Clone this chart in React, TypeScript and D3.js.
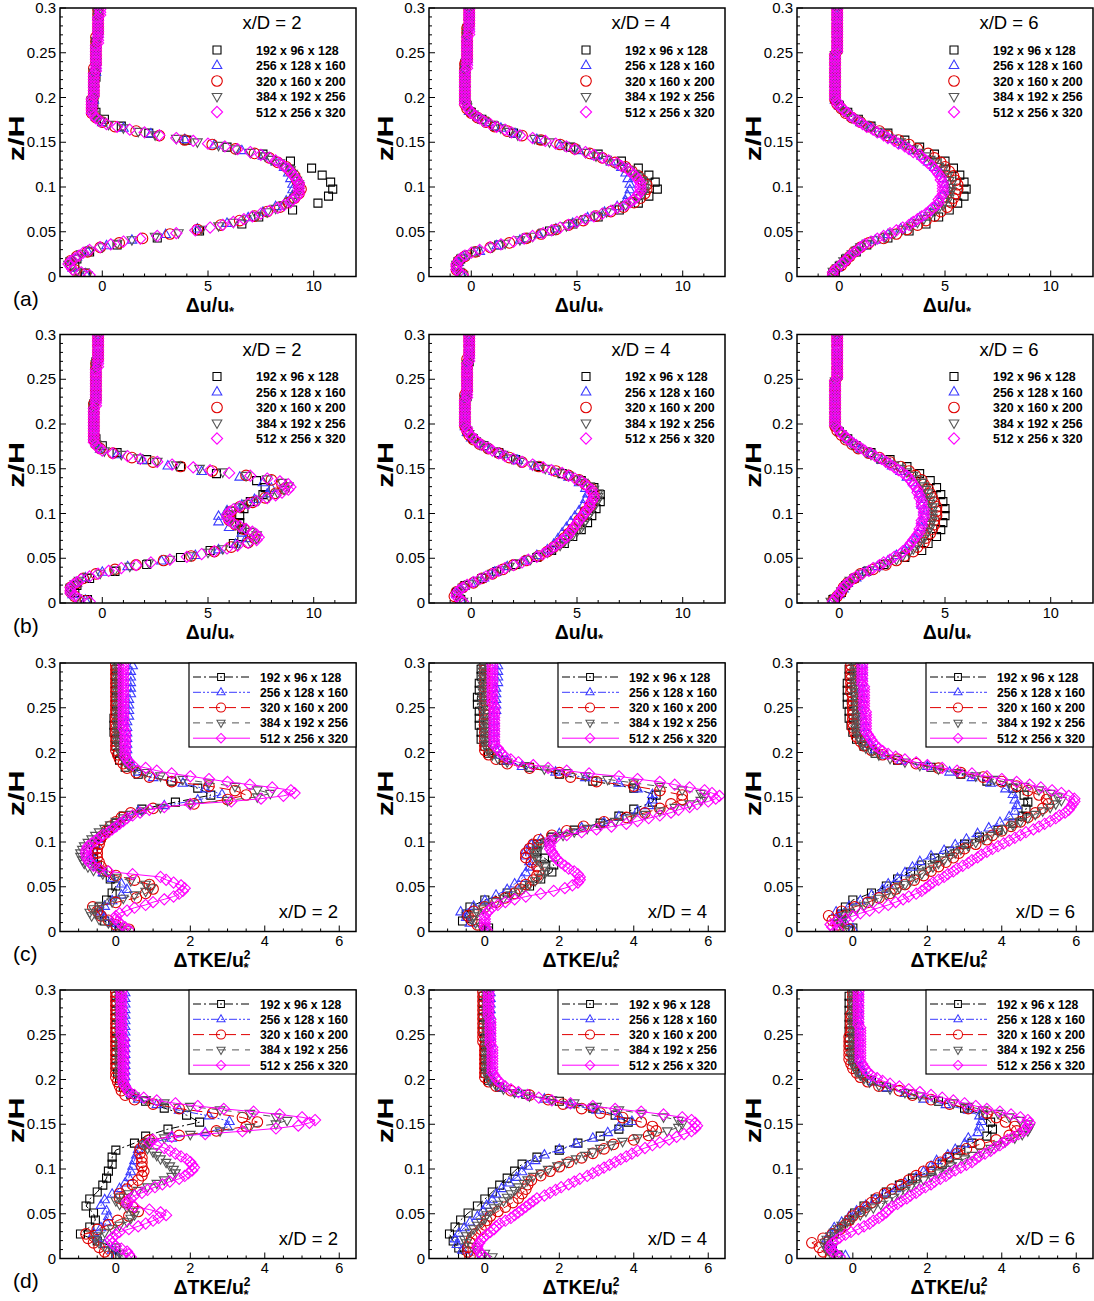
import React from 'react';
import * as d3 from 'd3';

// ---------- categories / labels ----------
const GRID_LABELS = ['192 x 96 x 128', '256 x 128 x 160', '320 x 160 x 200', '384 x 192 x 256', '512 x 256 x 320'];
const GRID_NZ = [128, 160, 200, 256, 320]; // vertical cells over H; values below are at cell centres
const DU_TICKS = [0, 5, 10];
const DU_MINOR = [-1, 1, 2, 3, 4, 6, 7, 8, 9, 11];
const TKE_TICKS = [0, 2, 4, 6];
const TKE_MINOR = [-1, -0.5, 0.5, 1, 1.5, 2.5, 3, 3.5, 4.5, 5, 5.5];
const Y_TICKS = [0, 0.05, 0.1, 0.15, 0.2, 0.25, 0.3];
const Y_TICK_LABELS = ['0', '0.05', '0.1', '0.15', '0.2', '0.25', '0.3'];
const Y_MINOR = [0.01, 0.02, 0.03, 0.04, 0.06, 0.07, 0.08, 0.09, 0.11, 0.12, 0.13, 0.14, 0.16, 0.17, 0.18, 0.19, 0.21, 0.22, 0.23, 0.24, 0.26, 0.27, 0.28, 0.29];

// ---------- (a) Δu/u*, x/D = 2,4,6 ----------
const duA2_128 = [-0.8,-1.3,-1.2,-0.6,0.7,2.6,4.6,6.6,7.4,9.0,10.2,10.7,10.9,10.8,10.4,9.9,8.9,7.6,5.9,4.0,2.2,0.9,0.1,-0.3,-0.4,-0.4,-0.4,-0.4,-0.3,-0.3,-0.3,-0.3,-0.3,-0.3,-0.2,-0.2,-0.2,-0.2];
const duA2_160 = [-0.8,-1.4,-1.5,-1.2,-0.7,0.2,1.4,3.0,4.5,5.9,6.9,7.6,8.2,8.7,9.0,9.0,9.0,8.9,8.8,8.6,8.2,7.6,6.6,5.3,3.9,2.3,1.0,0.0,-0.3,-0.5,-0.5,-0.4,-0.4,-0.4,-0.4,-0.4,-0.3,-0.3,-0.3,-0.3,-0.3,-0.3,-0.3,-0.2,-0.2,-0.2,-0.2,-0.2];
const duA2_200 = [-0.8,-1.3,-1.5,-1.5,-1.2,-0.7,-0.1,0.8,1.9,3.2,4.5,5.6,6.5,7.2,7.8,8.4,8.8,9.1,9.3,9.4,9.3,9.2,9.1,8.9,8.7,8.3,7.9,7.2,6.3,5.2,3.9,2.7,1.6,0.6,0.0,-0.3,-0.5,-0.5,-0.5,-0.5,-0.4,-0.4,-0.4,-0.4,-0.4,-0.4,-0.4,-0.3,-0.3,-0.3,-0.3,-0.3,-0.3,-0.3,-0.2,-0.2,-0.2,-0.2,-0.2,-0.2];
const duA2_256 = [-0.7,-1.2,-1.5,-1.6,-1.5,-1.2,-1.0,-0.6,0.0,0.7,1.4,2.5,3.6,4.7,5.5,6.2,6.8,7.3,7.8,8.2,8.6,8.9,9.1,9.2,9.3,9.3,9.3,9.2,9.1,9.0,8.9,8.6,8.4,8.0,7.7,7.0,6.3,5.5,4.5,3.5,2.5,1.7,1.0,0.3,-0.1,-0.3,-0.4,-0.5,-0.5,-0.5,-0.5,-0.4,-0.4,-0.4,-0.4,-0.4,-0.4,-0.4,-0.4,-0.3,-0.3,-0.3,-0.3,-0.3,-0.3,-0.3,-0.3,-0.3,-0.2,-0.2,-0.2,-0.2,-0.2,-0.2,-0.2,-0.2,-0.2];
const duA2_320 = [-0.6,-1.0,-1.4,-1.5,-1.6,-1.5,-1.3,-1.1,-0.9,-0.6,-0.1,0.4,1.0,1.8,2.6,3.5,4.4,5.1,5.7,6.2,6.7,7.1,7.5,7.9,8.3,8.6,8.9,9.0,9.2,9.3,9.3,9.3,9.3,9.3,9.2,9.1,9.0,8.9,8.8,8.6,8.4,8.2,7.9,7.5,7.0,6.4,5.8,5.0,4.3,3.5,2.7,2.0,1.3,0.7,0.2,-0.1,-0.3,-0.4,-0.5,-0.5,-0.5,-0.5,-0.5,-0.5,-0.4,-0.4,-0.4,-0.4,-0.4,-0.4,-0.4,-0.4,-0.4,-0.3,-0.3,-0.3,-0.3,-0.3,-0.3,-0.3,-0.3,-0.3,-0.3,-0.2,-0.2,-0.2,-0.2,-0.2,-0.2,-0.2,-0.2,-0.2,-0.2,-0.1,-0.1,-0.1];

const duA4_128 = [-0.5,-0.7,-0.5,0.2,1.3,2.6,3.7,4.8,6.0,7.0,7.9,8.4,8.8,8.7,8.4,7.9,7.1,6.0,4.7,3.3,2.0,1.1,0.5,0.0,-0.2,-0.3,-0.3,-0.3,-0.3,-0.3,-0.3,-0.2,-0.2,-0.2,-0.2,-0.2,-0.1,-0.1];
const duA4_160 = [-0.5,-0.7,-0.6,-0.4,0.4,1.2,2.3,3.2,4.0,4.8,5.5,6.3,6.9,7.3,7.4,7.5,7.5,7.4,7.3,7.1,6.6,5.9,5.1,4.2,3.1,2.1,1.4,0.8,0.3,-0.1,-0.2,-0.3,-0.3,-0.3,-0.3,-0.3,-0.3,-0.3,-0.2,-0.2,-0.2,-0.2,-0.2,-0.2,-0.1,-0.1,-0.1,-0.1];
const duA4_200 = [-0.4,-0.7,-0.7,-0.6,-0.3,0.2,0.9,1.8,2.6,3.3,4.0,4.6,5.3,5.9,6.6,7.2,7.7,8.0,8.2,8.3,8.3,8.1,7.9,7.6,7.3,6.8,6.2,5.6,4.9,4.2,3.3,2.4,1.7,1.1,0.7,0.3,0.0,-0.2,-0.3,-0.3,-0.3,-0.3,-0.3,-0.3,-0.3,-0.3,-0.3,-0.3,-0.2,-0.2,-0.2,-0.2,-0.2,-0.2,-0.2,-0.2,-0.1,-0.1,-0.1,-0.1];
const duA4_256 = [-0.4,-0.6,-0.7,-0.7,-0.6,-0.4,-0.1,0.3,1.0,1.6,2.3,2.9,3.4,4.0,4.5,5.0,5.4,5.9,6.4,6.9,7.3,7.6,7.9,8.1,8.2,8.2,8.2,8.1,7.9,7.7,7.5,7.2,6.8,6.4,5.9,5.4,4.9,4.4,3.7,3.0,2.2,1.8,1.4,1.0,0.6,0.3,0.1,-0.1,-0.2,-0.3,-0.3,-0.3,-0.3,-0.3,-0.3,-0.3,-0.3,-0.3,-0.3,-0.3,-0.2,-0.2,-0.2,-0.2,-0.2,-0.2,-0.2,-0.2,-0.2,-0.2,-0.1,-0.1,-0.1,-0.1,-0.1,-0.1,-0.1];
const duA4_320 = [-0.4,-0.6,-0.7,-0.7,-0.7,-0.6,-0.5,-0.3,0.0,0.4,0.9,1.4,2.0,2.5,2.9,3.4,3.8,4.2,4.6,5.0,5.4,5.8,6.2,6.6,6.9,7.3,7.5,7.7,7.8,7.9,8.0,8.0,8.0,8.0,7.9,7.8,7.7,7.5,7.4,7.1,6.9,6.5,6.2,5.8,5.4,4.9,4.5,4.0,3.5,2.9,2.3,1.9,1.6,1.2,0.9,0.6,0.4,0.2,0.0,-0.1,-0.2,-0.3,-0.3,-0.3,-0.3,-0.3,-0.3,-0.3,-0.3,-0.3,-0.3,-0.3,-0.3,-0.3,-0.2,-0.2,-0.2,-0.2,-0.2,-0.2,-0.2,-0.2,-0.2,-0.2,-0.2,-0.2,-0.1,-0.1,-0.1,-0.1,-0.1,-0.1,-0.1,-0.1,-0.1,-0.1];

const duA6_128 = [-0.3,0.0,0.3,0.8,1.3,2.3,3.3,4.1,4.7,5.2,5.6,5.9,6.0,5.9,5.7,5.4,5.0,4.5,3.8,3.1,2.3,1.5,0.9,0.4,0.0,-0.2,-0.2,-0.2,-0.2,-0.2,-0.2,-0.2,-0.1,-0.1,-0.1,-0.1,-0.1,-0.1];
const duA6_160 = [-0.3,-0.1,0.2,0.4,0.7,1.1,1.7,2.3,2.9,3.4,3.8,4.2,4.5,4.7,4.9,5.0,5.0,4.9,4.8,4.5,4.2,3.9,3.5,3.0,2.5,2.0,1.5,1.0,0.6,0.3,0.0,-0.2,-0.2,-0.2,-0.2,-0.2,-0.2,-0.2,-0.2,-0.2,-0.1,-0.1,-0.1,-0.1,-0.1,-0.1,-0.1,-0.1];
const duA6_200 = [-0.3,-0.2,0.1,0.3,0.5,0.7,1.0,1.4,2.1,2.7,3.2,3.7,4.1,4.5,4.8,5.1,5.3,5.4,5.5,5.6,5.6,5.5,5.4,5.2,5.0,4.8,4.5,4.2,3.7,3.3,2.8,2.3,1.9,1.4,1.0,0.6,0.3,0.1,-0.1,-0.2,-0.2,-0.2,-0.2,-0.2,-0.2,-0.2,-0.2,-0.2,-0.2,-0.2,-0.1,-0.1,-0.1,-0.1,-0.1,-0.1,-0.1,-0.1,-0.1,-0.1];
const duA6_256 = [-0.3,-0.3,-0.1,0.1,0.2,0.4,0.6,0.8,1.0,1.3,1.7,2.2,2.6,3.0,3.4,3.7,4.0,4.3,4.5,4.7,4.9,5.0,5.2,5.2,5.3,5.3,5.3,5.2,5.1,5.0,4.9,4.7,4.5,4.3,4.1,3.8,3.5,3.1,2.9,2.5,2.1,1.8,1.5,1.2,0.9,0.6,0.4,0.2,0.0,-0.1,-0.2,-0.2,-0.2,-0.2,-0.2,-0.2,-0.2,-0.2,-0.2,-0.2,-0.2,-0.2,-0.2,-0.2,-0.1,-0.1,-0.1,-0.1,-0.1,-0.1,-0.1,-0.1,-0.1,-0.1,-0.1,-0.1,-0.1];
const duA6_320 = [-0.3,-0.3,-0.2,0.0,0.1,0.3,0.4,0.5,0.7,0.9,1.0,1.2,1.5,1.8,2.1,2.4,2.7,3.0,3.3,3.5,3.7,3.9,4.1,4.3,4.4,4.6,4.7,4.7,4.8,4.9,4.9,4.9,4.9,4.9,4.8,4.8,4.7,4.6,4.5,4.4,4.2,4.1,3.9,3.8,3.5,3.3,3.1,2.8,2.6,2.3,2.1,1.8,1.6,1.3,1.1,0.9,0.7,0.5,0.4,0.2,0.1,-0.1,-0.1,-0.2,-0.2,-0.2,-0.2,-0.2,-0.2,-0.2,-0.2,-0.2,-0.2,-0.2,-0.2,-0.2,-0.2,-0.2,-0.2,-0.2,-0.1,-0.1,-0.1,-0.1,-0.1,-0.1,-0.1,-0.1,-0.1,-0.1,-0.1,-0.1,-0.1,-0.1,-0.1,-0.1];

// ---------- (b) Δu/u* ----------
const duB2_128 = [-0.7,-1.3,-1.2,-0.6,0.6,2.1,3.7,5.1,6.2,6.6,6.6,6.5,6.5,6.7,7.0,7.6,7.7,7.3,5.4,3.7,2.1,0.7,0.0,-0.3,-0.4,-0.4,-0.4,-0.4,-0.4,-0.3,-0.3,-0.3,-0.3,-0.3,-0.3,-0.2,-0.2,-0.2];
const duB2_160 = [-0.8,-1.4,-1.5,-1.2,-0.8,0.0,1.2,2.8,4.4,5.5,6.3,6.8,6.6,6.0,5.5,5.5,5.9,6.6,7.2,7.8,8.0,7.6,6.5,4.7,3.1,1.9,0.7,-0.1,-0.3,-0.4,-0.4,-0.4,-0.4,-0.4,-0.4,-0.4,-0.3,-0.3,-0.3,-0.3,-0.3,-0.3,-0.3,-0.2,-0.2,-0.2,-0.2,-0.2];
const duB2_200 = [-0.8,-1.3,-1.5,-1.5,-1.2,-0.9,-0.3,0.6,1.6,2.9,4.2,5.3,6.1,6.9,7.2,7.1,6.7,6.3,6.0,6.0,6.1,6.5,7.1,7.7,8.2,8.6,8.5,8.0,6.8,5.2,3.7,2.4,1.4,0.5,-0.1,-0.3,-0.4,-0.4,-0.4,-0.4,-0.4,-0.4,-0.4,-0.4,-0.4,-0.3,-0.3,-0.3,-0.3,-0.3,-0.3,-0.3,-0.3,-0.3,-0.2,-0.2,-0.2,-0.2,-0.2,-0.2];
const duB2_256 = [-0.7,-1.2,-1.5,-1.5,-1.5,-1.3,-1.1,-0.7,-0.1,0.6,1.3,2.2,3.2,4.2,5.0,5.7,6.4,7.0,7.3,7.3,7.0,6.6,6.3,6.0,5.9,6.0,6.1,6.5,6.9,7.4,7.9,8.3,8.6,8.8,8.5,7.8,6.8,5.7,4.6,3.5,2.6,1.7,0.9,0.1,-0.2,-0.3,-0.4,-0.4,-0.4,-0.4,-0.4,-0.4,-0.4,-0.4,-0.4,-0.4,-0.4,-0.3,-0.3,-0.3,-0.3,-0.3,-0.3,-0.3,-0.3,-0.3,-0.3,-0.3,-0.3,-0.2,-0.2,-0.2,-0.2,-0.2,-0.2,-0.2,-0.2];
const duB2_320 = [-0.6,-1.1,-1.3,-1.5,-1.5,-1.5,-1.4,-1.2,-1.0,-0.6,-0.2,0.3,0.9,1.6,2.3,3.2,4.0,4.7,5.3,5.9,6.4,6.9,7.3,7.4,7.3,7.1,6.8,6.5,6.2,6.0,5.9,5.9,6.0,6.2,6.5,6.9,7.3,7.8,8.2,8.5,8.8,8.9,8.8,8.4,7.8,7.0,6.0,5.1,4.3,3.3,2.6,1.8,1.2,0.5,0.0,-0.2,-0.3,-0.4,-0.4,-0.4,-0.4,-0.4,-0.4,-0.4,-0.4,-0.4,-0.4,-0.4,-0.4,-0.4,-0.3,-0.3,-0.3,-0.3,-0.3,-0.3,-0.3,-0.3,-0.3,-0.3,-0.3,-0.3,-0.3,-0.3,-0.2,-0.2,-0.2,-0.2,-0.2,-0.2,-0.2,-0.2,-0.2,-0.2,-0.2,-0.2];

const duB4_128 = [-0.5,-0.7,-0.3,0.5,1.2,2.1,3.1,3.8,4.4,4.8,5.2,5.5,5.7,5.9,6.1,6.1,5.8,5.2,4.3,3.2,2.1,1.3,0.6,0.1,-0.2,-0.3,-0.3,-0.3,-0.3,-0.2,-0.2,-0.2,-0.2,-0.2,-0.1,-0.1,-0.1,-0.1];
const duB4_160 = [-0.5,-0.7,-0.5,0.0,0.6,1.1,1.7,2.5,3.1,3.6,3.9,4.1,4.3,4.5,4.7,4.9,5.1,5.3,5.4,5.5,5.4,5.1,4.6,3.9,3.0,2.2,1.5,0.9,0.4,0.0,-0.2,-0.3,-0.3,-0.3,-0.3,-0.3,-0.3,-0.3,-0.2,-0.2,-0.2,-0.2,-0.2,-0.2,-0.1,-0.1,-0.1,-0.1];
const duB4_200 = [-0.5,-0.8,-0.7,-0.4,0.1,0.5,1.0,1.5,2.0,2.6,3.2,3.6,3.9,4.2,4.4,4.6,4.8,5.0,5.1,5.3,5.4,5.6,5.7,5.8,5.8,5.7,5.4,5.1,4.6,4.0,3.2,2.4,1.8,1.3,0.8,0.4,0.1,-0.1,-0.2,-0.3,-0.3,-0.3,-0.3,-0.3,-0.3,-0.3,-0.3,-0.2,-0.2,-0.2,-0.2,-0.2,-0.2,-0.2,-0.2,-0.1,-0.1,-0.1,-0.1,-0.1];
const duB4_256 = [-0.4,-0.6,-0.7,-0.6,-0.4,-0.1,0.3,0.7,1.0,1.4,1.8,2.3,2.8,3.2,3.6,3.9,4.2,4.4,4.6,4.8,5.0,5.2,5.3,5.4,5.5,5.6,5.7,5.8,5.9,6.0,6.0,6.0,5.8,5.6,5.3,5.0,4.6,4.1,3.5,2.9,2.3,1.9,1.5,1.1,0.7,0.4,0.2,0.0,-0.1,-0.2,-0.3,-0.3,-0.3,-0.3,-0.3,-0.3,-0.3,-0.3,-0.3,-0.2,-0.2,-0.2,-0.2,-0.2,-0.2,-0.2,-0.2,-0.2,-0.2,-0.1,-0.1,-0.1,-0.1,-0.1,-0.1,-0.1,-0.1];
const duB4_320 = [-0.4,-0.6,-0.7,-0.7,-0.6,-0.4,-0.2,0.1,0.4,0.7,1.0,1.3,1.6,2.0,2.4,2.7,3.1,3.4,3.6,3.8,4.0,4.2,4.3,4.5,4.6,4.7,4.8,4.9,5.0,5.1,5.2,5.3,5.4,5.5,5.6,5.6,5.7,5.8,5.8,5.7,5.7,5.5,5.4,5.2,4.9,4.6,4.3,3.8,3.4,2.9,2.4,2.0,1.6,1.3,1.0,0.8,0.5,0.3,0.2,0.0,-0.1,-0.2,-0.2,-0.3,-0.3,-0.3,-0.3,-0.3,-0.3,-0.3,-0.3,-0.3,-0.3,-0.2,-0.2,-0.2,-0.2,-0.2,-0.2,-0.2,-0.2,-0.2,-0.2,-0.2,-0.2,-0.2,-0.1,-0.1,-0.1,-0.1,-0.1,-0.1,-0.1,-0.1,-0.1,-0.1];

const duB6_128 = [-0.3,0.1,0.3,0.7,1.3,2.1,3.1,3.9,4.2,4.6,4.8,4.9,5.0,5.0,4.9,4.8,4.6,4.3,3.8,3.2,2.4,1.5,0.8,0.4,0.0,-0.2,-0.2,-0.2,-0.2,-0.2,-0.2,-0.2,-0.1,-0.1,-0.1,-0.1,-0.1,-0.1];
const duB6_160 = [-0.3,0.0,0.2,0.4,0.8,1.2,1.8,2.3,2.7,3.1,3.3,3.6,3.7,3.9,3.9,4.0,4.0,3.9,3.9,3.8,3.7,3.5,3.2,2.9,2.5,2.0,1.5,1.0,0.7,0.3,0.1,-0.1,-0.2,-0.2,-0.2,-0.2,-0.2,-0.2,-0.2,-0.2,-0.1,-0.1,-0.1,-0.1,-0.1,-0.1,-0.1,-0.1];
const duB6_200 = [-0.3,-0.1,0.1,0.2,0.4,0.7,1.0,1.6,2.2,2.7,3.1,3.5,3.7,4.0,4.1,4.3,4.4,4.5,4.5,4.6,4.6,4.6,4.5,4.4,4.3,4.2,4.0,3.9,3.6,3.3,2.9,2.4,1.9,1.4,0.9,0.6,0.3,0.1,-0.1,-0.2,-0.2,-0.2,-0.2,-0.2,-0.2,-0.2,-0.2,-0.2,-0.2,-0.2,-0.1,-0.1,-0.1,-0.1,-0.1,-0.1,-0.1,-0.1,-0.1,-0.1];
const duB6_256 = [-0.4,-0.2,0.0,0.1,0.3,0.4,0.5,0.8,1.1,1.4,1.9,2.3,2.7,3.0,3.3,3.5,3.7,3.8,4.0,4.1,4.2,4.3,4.3,4.4,4.4,4.4,4.4,4.4,4.3,4.3,4.2,4.2,4.1,4.0,3.9,3.7,3.5,3.2,2.9,2.6,2.2,1.8,1.5,1.2,0.9,0.6,0.4,0.2,0.1,-0.1,-0.2,-0.2,-0.2,-0.2,-0.2,-0.2,-0.2,-0.2,-0.2,-0.2,-0.2,-0.2,-0.2,-0.2,-0.1,-0.1,-0.1,-0.1,-0.1,-0.1,-0.1,-0.1,-0.1,-0.1,-0.1,-0.1,-0.1];
const duB6_320 = [-0.3,-0.2,-0.1,0.0,0.1,0.2,0.3,0.5,0.6,0.8,1.1,1.4,1.6,1.9,2.1,2.4,2.6,2.9,3.0,3.2,3.3,3.4,3.5,3.6,3.7,3.8,3.8,3.9,3.9,3.9,4.0,4.0,4.0,4.0,3.9,3.9,3.9,3.8,3.8,3.7,3.7,3.6,3.5,3.4,3.3,3.2,3.0,2.8,2.6,2.4,2.2,2.0,1.7,1.5,1.2,1.0,0.8,0.6,0.4,0.3,0.1,0.0,-0.1,-0.2,-0.2,-0.2,-0.2,-0.2,-0.2,-0.2,-0.2,-0.2,-0.2,-0.2,-0.2,-0.2,-0.2,-0.2,-0.2,-0.2,-0.1,-0.1,-0.1,-0.1,-0.1,-0.1,-0.1,-0.1,-0.1,-0.1,-0.1,-0.1,-0.1,-0.1,-0.1,-0.1];

// ---------- (c) ΔTKE/u*² ----------
const tkC2_128 = [0.0,-0.3,-0.45,-0.45,-0.25,-0.1,0.0,-0.15,-0.35,-0.5,-0.6,-0.6,-0.55,-0.4,-0.2,0.0,0.2,0.7,1.6,2.55,2.2,1.5,0.6,0.25,0.1,0.05,0.0,0.0,-0.05,-0.05,-0.05,0.0,0.0,0.0,0.0,0.0,0.0,0.0];
const tkC2_160 = [0.05,-0.1,-0.3,-0.4,-0.3,-0.1,0.15,0.3,0.15,-0.1,-0.35,-0.5,-0.6,-0.65,-0.6,-0.55,-0.45,-0.3,-0.1,0.1,0.3,0.6,1.3,2.2,2.85,2.4,1.8,1.0,0.6,0.45,0.35,0.3,0.3,0.3,0.3,0.3,0.3,0.3,0.35,0.35,0.35,0.35,0.4,0.4,0.4,0.4,0.4,0.45];
const tkC2_200 = [0.35,0.0,-0.2,-0.4,-0.5,-0.62,0.0,0.55,0.8,1.0,0.9,0.5,0.0,-0.25,-0.4,-0.45,-0.5,-0.5,-0.5,-0.45,-0.42,-0.35,-0.25,-0.15,0.0,0.15,0.4,1.0,2.1,3.0,3.5,3.2,2.5,1.5,0.9,0.55,0.3,0.2,0.1,0.05,0.0,0.0,0.0,0.0,0.0,0.0,0.0,0.0,0.0,0.0,0.0,0.0,0.0,0.0,0.0,0.0,0.0,0.0,0.0,0.0];
const tkC2_256 = [0.3,0.1,-0.2,-0.45,-0.65,-0.7,-0.6,-0.4,-0.1,0.2,0.5,0.8,0.95,0.8,0.4,0.0,-0.35,-0.6,-0.75,-0.85,-0.9,-0.95,-0.95,-0.9,-0.85,-0.75,-0.65,-0.55,-0.45,-0.3,-0.15,0.0,0.2,0.4,0.7,1.2,2.0,3.0,3.8,4.15,3.8,3.2,2.5,1.8,1.2,0.8,0.5,0.35,0.25,0.2,0.15,0.1,0.1,0.05,0.05,0.05,0.05,0.05,0.05,0.05,0.05,0.05,0.05,0.05,0.05,0.05,0.05,0.05,0.05,0.05,0.05,0.05,0.05,0.05,0.05,0.05,0.05];
const tkC2_320 = [0.35,0.25,0.15,0.05,0.0,0.0,0.1,0.3,0.5,0.8,1.0,1.3,1.55,1.7,1.8,1.85,1.75,1.55,1.35,1.2,0.45,-0.2,-0.45,-0.6,-0.7,-0.75,-0.78,-0.8,-0.8,-0.78,-0.75,-0.65,-0.55,-0.45,-0.35,-0.2,-0.1,0.0,0.1,0.2,0.3,0.45,0.65,0.9,1.3,2.0,3.1,3.9,4.5,4.8,4.7,4.2,3.6,3.0,2.5,2.0,1.5,1.1,0.8,0.45,0.35,0.3,0.25,0.25,0.25,0.25,0.25,0.25,0.25,0.25,0.25,0.25,0.2,0.2,0.2,0.2,0.2,0.2,0.2,0.2,0.2,0.2,0.2,0.2,0.2,0.2,0.2,0.2,0.2,0.2,0.2,0.2,0.2,0.2,0.2,0.2];

const tkC4_128 = [0.1,-0.6,-0.5,-0.4,0.0,0.6,1.2,1.5,1.8,1.85,1.6,1.4,1.4,1.8,2.4,3.1,3.6,4.0,4.5,4.6,4.0,2.9,2.0,1.2,0.5,0.1,0.0,-0.1,-0.1,-0.15,-0.15,-0.15,-0.2,-0.2,-0.15,-0.15,-0.1,-0.1];
const tkC4_160 = [0.0,-0.4,-0.5,-0.65,-0.3,0.0,0.3,0.6,0.8,1.0,1.1,1.2,1.2,1.1,1.1,1.25,1.5,2.0,2.6,3.2,3.6,4.1,4.4,4.5,4.5,4.1,3.6,2.7,1.9,1.0,0.6,0.4,0.3,0.25,0.25,0.25,0.25,0.25,0.25,0.3,0.3,0.3,0.3,0.3,0.35,0.35,0.35,0.35];
const tkC4_200 = [0.0,-0.2,-0.35,-0.45,-0.3,0.0,0.3,0.55,0.8,0.95,1.1,1.3,1.4,1.45,1.4,1.25,1.1,1.1,1.2,1.3,1.45,1.8,2.2,2.65,3.2,3.8,4.3,4.7,5.0,5.3,5.3,4.7,4.0,3.0,2.3,2.0,1.2,0.6,0.3,0.1,0.0,0.0,0.0,0.0,0.0,0.0,0.0,0.0,0.0,0.0,0.0,0.0,0.0,0.0,0.0,0.0,0.0,0.0,0.0,0.0];
const tkC4_256 = [0.05,-0.1,-0.25,-0.35,-0.3,-0.2,-0.05,0.1,0.3,0.5,0.7,0.9,1.05,1.2,1.35,1.5,1.6,1.65,1.6,1.5,1.4,1.35,1.35,1.4,1.5,1.65,1.85,2.1,2.4,2.75,3.1,3.5,3.9,4.3,4.7,5.1,5.5,5.8,5.9,5.8,5.3,4.7,4.0,3.3,2.7,2.2,1.6,1.1,0.6,0.35,0.2,0.1,0.05,0.0,0.0,0.0,0.0,0.0,0.0,0.0,0.0,0.0,0.0,-0.05,-0.05,-0.05,-0.05,-0.05,-0.05,-0.05,-0.05,-0.05,-0.05,-0.05,-0.05,-0.05,-0.05];
const tkC4_320 = [0.05,0.0,0.0,0.0,0.0,0.0,0.05,0.1,0.2,0.35,0.55,0.8,1.1,1.5,1.85,2.15,2.35,2.5,2.55,2.55,2.5,2.4,2.25,2.15,2.05,1.95,1.9,1.85,1.8,1.75,1.75,1.75,1.75,1.9,2.2,2.6,3.0,3.4,3.8,4.1,4.4,4.7,5.0,5.2,5.5,5.7,6.0,6.2,6.3,6.1,5.9,5.5,5.1,4.7,4.1,3.6,2.8,2.2,1.7,1.3,0.9,0.7,0.55,0.45,0.4,0.35,0.25,0.25,0.25,0.25,0.25,0.25,0.25,0.25,0.25,0.25,0.25,0.25,0.25,0.25,0.25,0.2,0.2,0.2,0.2,0.2,0.2,0.2,0.2,0.2,0.2,0.2,0.2,0.2,0.2,0.2];

const tkC6_128 = [0.0,-0.3,-0.3,-0.2,0.0,0.5,0.9,1.2,1.55,1.85,2.2,2.6,3.0,3.4,3.9,4.3,4.55,4.65,4.7,4.6,4.3,3.6,2.9,2.1,1.2,0.6,0.3,0.1,0.0,-0.05,-0.1,-0.1,-0.15,-0.15,-0.15,-0.15,-0.1,-0.1];
const tkC6_160 = [0.0,-0.2,-0.4,-0.45,-0.1,0.2,0.5,0.8,0.95,1.2,1.4,1.6,1.8,2.1,2.45,2.75,3.05,3.35,3.65,3.95,4.2,4.35,4.4,4.35,4.3,4.1,3.7,3.2,2.6,2.0,1.3,0.9,0.6,0.45,0.35,0.3,0.3,0.3,0.25,0.25,0.25,0.25,0.25,0.25,0.25,0.25,0.25,0.25];
const tkC6_200 = [-0.1,-0.4,-0.55,-0.65,-0.3,0.05,0.4,0.7,1.0,1.15,1.4,1.65,1.9,2.1,2.3,2.5,2.7,2.85,3.0,3.3,3.6,3.75,4.0,4.25,4.5,4.7,4.9,5.1,5.25,5.2,5.0,4.7,4.4,4.0,3.5,2.9,2.3,1.7,1.2,0.8,0.5,0.3,0.2,0.1,0.05,0.0,0.0,0.0,0.0,0.0,0.0,0.0,0.0,-0.05,-0.05,-0.05,-0.05,-0.05,-0.05,-0.05];
const tkC6_256 = [-0.1,-0.3,-0.35,-0.3,-0.2,-0.1,0.1,0.3,0.5,0.7,0.9,1.1,1.25,1.4,1.55,1.7,1.85,2.0,2.15,2.3,2.45,2.6,2.75,2.9,3.1,3.3,3.5,3.7,3.9,4.1,4.3,4.5,4.7,4.9,5.1,5.3,5.45,5.6,5.5,5.3,5.0,4.6,4.2,3.8,3.3,2.8,2.3,1.8,1.4,1.0,0.7,0.5,0.35,0.25,0.2,0.15,0.1,0.1,0.1,0.1,0.1,0.1,0.1,0.1,0.1,0.1,0.1,0.05,0.05,0.05,0.05,0.05,0.05,0.05,0.05,0.05,0.05];
const tkC6_320 = [-0.4,-0.55,-0.6,-0.45,-0.2,0.0,0.2,0.45,0.7,0.95,1.15,1.35,1.5,1.7,1.85,1.95,2.05,2.15,2.3,2.45,2.55,2.7,2.8,2.95,3.1,3.2,3.35,3.45,3.6,3.75,3.9,4.05,4.2,4.35,4.5,4.65,4.85,5.0,5.15,5.3,5.45,5.55,5.7,5.8,5.85,5.9,5.95,5.95,5.8,5.6,5.35,5.05,4.75,4.4,4.0,3.6,3.2,2.8,2.4,2.0,1.7,1.4,1.15,0.95,0.8,0.7,0.6,0.55,0.5,0.45,0.4,0.35,0.35,0.35,0.35,0.35,0.35,0.35,0.35,0.3,0.3,0.3,0.3,0.3,0.3,0.3,0.3,0.3,0.25,0.25,0.25,0.25,0.25,0.25,0.25,0.25];

// ---------- (d) ΔTKE/u*² ----------
const tkD2_128 = [0.0,0.0,-0.5,-0.95,-0.7,-0.55,-0.6,-0.8,-0.7,-0.5,-0.35,-0.25,-0.2,-0.1,-0.1,0.0,0.5,0.8,1.4,2.25,1.9,1.3,0.8,0.4,0.2,0.1,0.05,0.0,0.0,0.0,0.0,0.0,0.0,0.0,0.0,0.0,0.0,0.0];
const tkD2_160 = [0.0,-0.1,-0.3,-0.5,-0.6,-0.4,-0.25,-0.2,-0.25,-0.4,-0.3,-0.1,0.1,0.25,0.35,0.4,0.45,0.5,0.55,0.6,0.75,1.5,2.4,3.0,3.05,2.5,1.7,1.1,0.6,0.4,0.3,0.25,0.25,0.25,0.25,0.25,0.25,0.25,0.25,0.25,0.25,0.25,0.25,0.25,0.25,0.25,0.25,0.25];
const tkD2_200 = [-0.2,-0.3,-0.45,-0.6,-0.75,-0.8,-0.5,-0.2,0.05,0.35,0.6,0.45,0.25,0.1,0.1,0.3,0.45,0.6,0.7,0.75,0.7,0.7,0.7,0.65,0.65,0.75,0.9,1.7,2.7,3.5,3.8,3.4,2.6,1.7,1.0,0.5,0.25,0.15,0.1,0.05,0.0,0.0,0.0,0.0,0.0,0.0,0.0,0.0,0.0,0.0,0.0,0.0,0.0,0.0,0.0,0.0,0.0,0.0,0.0,0.0];
const tkD2_256 = [0.2,0.1,-0.1,-0.3,-0.45,-0.55,-0.5,-0.3,-0.1,0.1,0.3,0.4,0.5,0.45,0.3,0.1,0.0,0.1,0.35,0.6,0.85,1.1,1.3,1.5,1.6,1.55,1.45,1.35,1.2,1.1,1.0,0.85,0.75,0.9,1.3,2.0,2.8,3.6,4.3,4.6,4.3,3.6,2.8,2.0,1.3,0.8,0.5,0.35,0.25,0.2,0.15,0.1,0.1,0.1,0.1,0.1,0.1,0.1,0.1,0.1,0.1,0.1,0.1,0.1,0.1,0.1,0.1,0.1,0.1,0.1,0.1,0.1,0.1,0.1,0.1,0.1,0.1];
const tkD2_320 = [0.4,0.35,0.3,0.15,0.0,-0.1,-0.15,-0.1,0.0,0.1,0.35,0.6,0.8,1.0,1.15,1.35,1.2,0.9,0.5,0.3,0.3,0.4,0.5,0.7,0.85,1.05,1.25,1.45,1.7,1.85,1.95,2.05,2.1,2.05,2.0,1.9,1.75,1.6,1.45,1.3,1.1,0.9,1.0,1.5,2.4,3.4,4.3,4.9,5.2,5.35,5.0,4.4,3.7,2.9,2.2,1.6,1.1,0.75,0.5,0.35,0.3,0.25,0.2,0.2,0.2,0.2,0.2,0.2,0.2,0.2,0.2,0.2,0.2,0.2,0.2,0.2,0.2,0.2,0.2,0.15,0.15,0.15,0.15,0.15,0.15,0.15,0.15,0.15,0.15,0.15,0.15,0.15,0.15,0.15,0.15,0.15];

const tkD4_128 = [-0.6,-0.7,-0.85,-0.95,-0.8,-0.65,-0.45,-0.2,0.0,0.2,0.4,0.6,0.8,1.0,1.4,2.0,2.5,3.1,3.6,3.85,3.5,2.9,2.0,1.1,0.4,0.1,0.0,0.0,0.0,0.0,0.0,0.0,-0.05,-0.05,-0.05,-0.05,-0.05,-0.05];
const tkD4_160 = [-0.3,-0.6,-0.75,-0.8,-0.7,-0.55,-0.4,-0.2,-0.05,0.05,0.2,0.3,0.45,0.65,0.85,1.0,1.15,1.35,1.6,2.0,2.45,2.9,3.3,3.6,3.95,3.6,3.0,2.3,1.6,0.9,0.45,0.25,0.15,0.15,0.15,0.15,0.15,0.15,0.15,0.15,0.15,0.15,0.15,0.15,0.15,0.15,0.15,0.15];
const tkD4_200 = [-0.4,-0.45,-0.45,-0.4,-0.35,-0.25,-0.1,0.0,0.05,0.15,0.35,0.55,0.75,0.9,1.0,1.1,1.15,1.25,1.5,1.75,2.0,2.25,2.6,2.9,3.2,3.45,4.0,4.4,4.6,4.5,4.2,3.7,3.1,2.6,2.1,1.7,1.2,0.7,0.3,0.1,0.0,0.0,0.0,0.0,0.0,0.0,0.0,0.0,-0.05,-0.05,-0.05,-0.05,-0.05,-0.05,-0.05,-0.05,-0.05,-0.05,-0.05,-0.05];
const tkD4_256 = [0.2,0.0,-0.2,-0.35,-0.5,-0.55,-0.5,-0.4,-0.3,-0.2,-0.1,0.0,0.05,0.15,0.25,0.35,0.5,0.6,0.7,0.8,0.9,1.05,1.15,1.3,1.5,1.7,1.95,2.2,2.45,2.7,2.9,3.1,3.4,3.7,4.1,4.5,4.9,5.2,5.3,5.2,4.8,4.2,3.6,3.0,2.4,1.8,1.2,0.8,0.5,0.3,0.15,0.1,0.05,0.05,0.05,0.05,0.05,0.05,0.05,0.05,0.05,0.05,0.05,0.05,0.05,0.05,0.05,0.05,0.05,0.05,0.05,0.05,0.05,0.05,0.05,0.05,0.05];
const tkD4_320 = [0.0,-0.1,-0.15,-0.2,-0.2,-0.15,-0.1,-0.05,0.05,0.15,0.25,0.3,0.4,0.55,0.7,0.8,0.9,1.0,1.1,1.2,1.3,1.4,1.6,1.75,1.9,2.05,2.25,2.4,2.55,2.75,2.9,3.05,3.2,3.35,3.5,3.65,3.8,3.95,4.1,4.3,4.5,4.7,4.95,5.15,5.35,5.55,5.65,5.7,5.65,5.55,5.3,4.8,4.2,3.5,2.9,2.3,1.8,1.45,1.15,0.9,0.7,0.55,0.45,0.35,0.3,0.25,0.2,0.2,0.2,0.2,0.2,0.2,0.2,0.2,0.2,0.2,0.15,0.15,0.15,0.15,0.15,0.15,0.15,0.15,0.15,0.15,0.1,0.1,0.1,0.1,0.1,0.1,0.1,0.1,0.1,0.1];

const tkD6_128 = [-0.4,-0.55,-0.65,-0.5,-0.3,-0.1,0.05,0.3,0.6,0.9,1.25,1.6,2.1,2.4,2.6,2.9,3.2,3.6,3.75,3.7,3.5,3.0,2.3,1.6,0.9,0.5,0.25,0.1,0.0,-0.05,-0.1,-0.1,-0.1,-0.1,-0.1,-0.1,-0.1,-0.1];
const tkD6_160 = [-0.2,-0.5,-0.65,-0.7,-0.6,-0.5,-0.3,-0.1,0.1,0.35,0.6,0.85,1.15,1.4,1.7,1.9,2.1,2.25,2.55,2.75,3.0,3.1,3.35,3.4,3.45,3.4,3.1,2.5,1.9,1.4,0.9,0.55,0.35,0.25,0.2,0.15,0.15,0.15,0.15,0.15,0.15,0.15,0.15,0.15,0.15,0.15,0.15,0.15];
const tkD6_200 = [-0.6,-0.8,-0.9,-1.1,-0.8,-0.55,-0.35,-0.2,-0.1,0.0,0.2,0.35,0.5,0.65,0.85,1.05,1.3,1.5,1.7,1.9,2.1,2.35,2.55,2.8,3.05,3.4,3.85,4.2,4.4,4.35,4.1,3.85,3.6,3.1,2.6,2.1,1.6,1.25,0.7,0.4,0.2,0.1,0.0,-0.05,-0.1,-0.1,-0.1,-0.1,-0.1,-0.1,-0.05,-0.05,-0.05,-0.05,-0.05,0.0,0.0,0.0,0.0,0.0];
const tkD6_256 = [-0.4,-0.6,-0.7,-0.75,-0.75,-0.7,-0.6,-0.5,-0.4,-0.3,-0.15,0.0,0.2,0.35,0.55,0.75,0.95,1.1,1.25,1.4,1.55,1.7,1.9,2.1,2.3,2.5,2.65,2.8,3.0,3.2,3.45,3.7,3.9,4.1,4.35,4.55,4.7,4.75,4.7,4.5,4.2,3.9,3.5,3.1,2.7,2.2,1.8,1.4,1.0,0.7,0.45,0.3,0.2,0.1,0.05,0.0,0.0,0.0,0.0,0.0,0.0,0.0,0.0,0.0,0.0,0.0,0.0,0.0,0.0,0.0,0.0,0.0,0.0,0.0,0.0,0.0,0.0];
const tkD6_320 = [-0.35,-0.45,-0.55,-0.6,-0.6,-0.55,-0.45,-0.35,-0.2,-0.05,0.15,0.3,0.45,0.55,0.7,0.8,0.9,0.95,1.05,1.2,1.3,1.45,1.55,1.7,1.8,1.95,2.1,2.2,2.35,2.5,2.6,2.75,2.9,3.05,3.2,3.3,3.4,3.55,3.7,3.8,3.95,4.05,4.15,4.3,4.45,4.6,4.65,4.7,4.75,4.7,4.5,4.25,3.95,3.6,3.3,3.0,2.7,2.4,2.1,1.8,1.5,1.25,1.0,0.8,0.65,0.5,0.4,0.35,0.3,0.25,0.2,0.2,0.2,0.2,0.2,0.2,0.2,0.2,0.2,0.2,0.2,0.2,0.2,0.15,0.15,0.15,0.15,0.15,0.15,0.15,0.15,0.15,0.15,0.15,0.15,0.15];

// ---------- panel table ----------
type Panel = { row: number; col: number; kind: 'du' | 'tke'; xd: number; series: number[][] };
const PANELS: Panel[] = [
  { row: 0, col: 0, kind: 'du', xd: 2, series: [duA2_128, duA2_160, duA2_200, duA2_256, duA2_320] },
  { row: 0, col: 1, kind: 'du', xd: 4, series: [duA4_128, duA4_160, duA4_200, duA4_256, duA4_320] },
  { row: 0, col: 2, kind: 'du', xd: 6, series: [duA6_128, duA6_160, duA6_200, duA6_256, duA6_320] },
  { row: 1, col: 0, kind: 'du', xd: 2, series: [duB2_128, duB2_160, duB2_200, duB2_256, duB2_320] },
  { row: 1, col: 1, kind: 'du', xd: 4, series: [duB4_128, duB4_160, duB4_200, duB4_256, duB4_320] },
  { row: 1, col: 2, kind: 'du', xd: 6, series: [duB6_128, duB6_160, duB6_200, duB6_256, duB6_320] },
  { row: 2, col: 0, kind: 'tke', xd: 2, series: [tkC2_128, tkC2_160, tkC2_200, tkC2_256, tkC2_320] },
  { row: 2, col: 1, kind: 'tke', xd: 4, series: [tkC4_128, tkC4_160, tkC4_200, tkC4_256, tkC4_320] },
  { row: 2, col: 2, kind: 'tke', xd: 6, series: [tkC6_128, tkC6_160, tkC6_200, tkC6_256, tkC6_320] },
  { row: 3, col: 0, kind: 'tke', xd: 2, series: [tkD2_128, tkD2_160, tkD2_200, tkD2_256, tkD2_320] },
  { row: 3, col: 1, kind: 'tke', xd: 4, series: [tkD4_128, tkD4_160, tkD4_200, tkD4_256, tkD4_320] },
  { row: 3, col: 2, kind: 'tke', xd: 6, series: [tkD6_128, tkD6_160, tkD6_200, tkD6_256, tkD6_320] },
];
const ROW_LABELS = ['(a)', '(b)', '(c)', '(d)'];

// ---------- styling / layout ----------
const W = 1094, H = 1301;
const COL_X = [60, 429, 797];
const ROW_Y = [8, 334.5, 663, 990];
const PW = 296, PH = 268.5;
const DU_DOMAIN = [-2, 12];
const TKE_DOMAIN = [-1.5, 6.45];
const COLORS = ['#000000', '#3b3bff', '#e00000', '#555555', '#ff00ff'];
const DASHES = ['8,3,2,3', '8,2,2,2,2,2', '11,5', '7,6', ''];
const SHAPES = [
  'M-4,-4H4V4H-4Z',
  'M0,-5.4L4.8,3L-4.8,3Z',
  'M5.3,0A5.3,5.3 0 1,1 -5.3,0A5.3,5.3 0 1,1 5.3,0Z',
  'M0,5.4L4.8,-3L-4.8,-3Z',
  'M0,-5.6L5.6,0L0,5.6L-5.6,0Z',
];
const FONT = "'Liberation Sans', Arial, Helvetica, sans-serif";

function PanelView({ p, idx }: { p: Panel; idx: number }) {
  const L = COL_X[p.col], T = ROW_Y[p.row], R = L + PW, B = T + PH;
  const isDu = p.kind === 'du';
  const x = d3.scaleLinear().domain(isDu ? DU_DOMAIN : TKE_DOMAIN).range([L, R]);
  const y = d3.scaleLinear().domain([0, 0.3]).range([B, T]);
  const majorX = isDu ? DU_TICKS : TKE_TICKS;
  const minorX = isDu ? DU_MINOR : TKE_MINOR;
  const clipId = `clip-${idx}`;
  const line = d3.line<[number, number]>().x((d) => x(d[0])).y((d) => y(d[1]));

  return (
    <g>
      <defs>
        <clipPath id={clipId}>
          <rect x={L} y={T} width={PW} height={PH} />
        </clipPath>
      </defs>
      <g clipPath={`url(#${clipId})`}>
        {p.series.map((vals, si) => {
          const n = GRID_NZ[si];
          const pts: [number, number][] = vals.map((v, k) => [v, (k + 0.5) / n]);
          return (
            <g key={si}>
              {!isDu && (
                <path d={line(pts) || ''} fill="none" stroke={COLORS[si]} strokeWidth={1}
                  strokeDasharray={DASHES[si] || undefined} />
              )}
              {pts.map((d, k) => (
                <path key={k} d={SHAPES[si]}
                  transform={`translate(${x(d[0]).toFixed(2)},${y(d[1]).toFixed(2)})`}
                  fill="none" stroke={COLORS[si]} strokeWidth={1.1} />
              ))}
            </g>
          );
        })}
      </g>

      {/* ticks */}
      {Y_MINOR.map((v, i) => (
        <line key={'ym' + i} x1={L} x2={L + 3} y1={y(v)} y2={y(v)} stroke="#000" strokeWidth={1} />
      ))}
      {Y_TICKS.map((v, i) => (
        <line key={'yM' + i} x1={L} x2={L + 6} y1={y(v)} y2={y(v)} stroke="#000" strokeWidth={1} />
      ))}
      {minorX.map((v, i) => (
        <line key={'xm' + i} x1={x(v)} x2={x(v)} y1={B} y2={B - 3} stroke="#000" strokeWidth={1} />
      ))}
      {majorX.map((v, i) => (
        <line key={'xM' + i} x1={x(v)} x2={x(v)} y1={B} y2={B - 6} stroke="#000" strokeWidth={1} />
      ))}

      {/* frame */}
      <rect x={L} y={T} width={PW} height={PH} fill="none" stroke="#000" strokeWidth={1.5} />

      {/* tick labels */}
      {Y_TICKS.map((v, i) => (
        <text key={'yl' + i} x={L - 4} y={y(v) + 5} textAnchor="end" fontSize={15} fontFamily={FONT}>
          {Y_TICK_LABELS[i]}
        </text>
      ))}
      {majorX.map((v, i) => (
        <text key={'xl' + i} x={x(v)} y={B + 14.5} textAnchor="middle" fontSize={14.5} fontFamily={FONT}>
          {String(v)}
        </text>
      ))}

      {/* axis titles */}
      <text transform={`translate(${L - 36},${T + PH / 2 - 4}) rotate(-90)`} textAnchor="middle"
        fontSize={22} fontWeight="bold" fontFamily={FONT} textLength={46} lengthAdjust="spacingAndGlyphs">
        z/H
      </text>
      {isDu ? (
        <text x={L + PW / 2 + 2} y={B + 35.5} textAnchor="middle" fontSize={19.5} fontWeight="bold" fontFamily={FONT}>
          Δu/u<tspan fontSize={13} dy={4}>*</tspan>
        </text>
      ) : (
        <text x={L + PW / 2 + 4} y={B + 35.5} textAnchor="middle" fontSize={19.5} fontWeight="bold" fontFamily={FONT}>
          ΔTKE/u<tspan fontSize={12} dy={-8}>2</tspan>
          <tspan fontSize={13} dx={-7} dy={13}>*</tspan>
        </text>
      )}

      {p.col === 0 && (
        <text x={13} y={T + 298} fontSize={21} fontFamily={FONT}>
          {ROW_LABELS[p.row]}
        </text>
      )}

      {/* legends */}
      {isDu ? (
        <g>
          <text x={R - 84} y={T + 21} textAnchor="middle" fontSize={18.5} fontFamily={FONT}>
            x/D = {p.xd}
          </text>
          {GRID_LABELS.map((lab, i) => {
            const cy = T + 42 + 15.5 * i;
            return (
              <g key={'lg' + i}>
                <path d={SHAPES[i]} transform={`translate(${R - 139},${cy})`} fill="none" stroke={COLORS[i]} strokeWidth={1.1} />
                <text x={R - 100} y={cy + 4.5} fontSize={12.4} fontWeight="bold" fontFamily={FONT}>
                  {lab}
                </text>
              </g>
            );
          })}
        </g>
      ) : (
        <g>
          <rect x={R - 167} y={T} width={167} height={84} fill="#fff" stroke="#000" strokeWidth={1.2} />
          {GRID_LABELS.map((lab, i) => {
            const cy = T + 14 + 15.3 * i;
            return (
              <g key={'lt' + i}>
                <line x1={R - 163} x2={R - 106} y1={cy} y2={cy} stroke={COLORS[i]} strokeWidth={1}
                  strokeDasharray={DASHES[i] || undefined} />
                <path d={SHAPES[i]} transform={`translate(${R - 135},${cy}) scale(0.85)`} fill="none"
                  stroke={COLORS[i]} strokeWidth={1.2} />
                <text x={R - 96} y={cy + 4.5} fontSize={12.2} fontWeight="bold" fontFamily={FONT}>
                  {lab}
                </text>
              </g>
            );
          })}
          <text x={R - 18} y={B - 14} textAnchor="end" fontSize={18.5} fontFamily={FONT}>
            x/D = {p.xd}
          </text>
        </g>
      )}
    </g>
  );
}

export default function App() {
  return (
    <svg width={W} height={H} viewBox={`0 0 ${W} ${H}`}
      style={{ position: 'absolute', left: 0, top: 0, background: '#fff' }}>
      <rect x={0} y={0} width={W} height={H} fill="#fff" />
      {PANELS.map((p, i) => (
        <PanelView key={i} p={p} idx={i} />
      ))}
    </svg>
  );
}
